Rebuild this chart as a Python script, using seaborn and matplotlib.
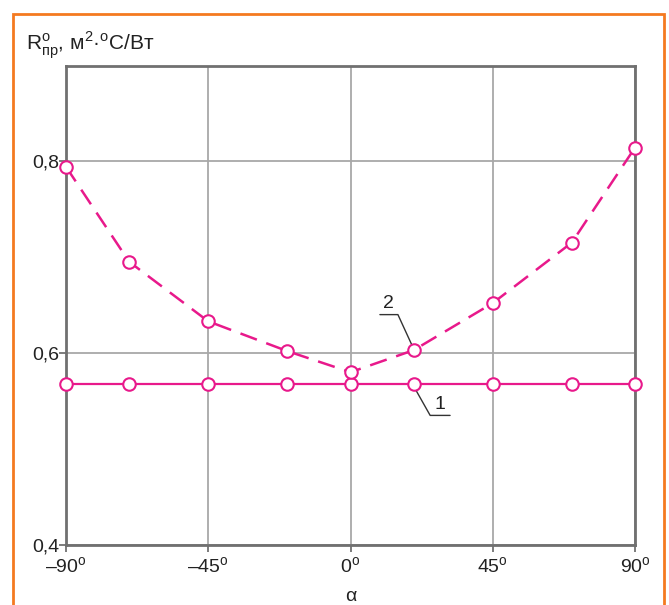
import matplotlib
matplotlib.use("Agg")
import matplotlib.pyplot as plt
import seaborn as sns
from matplotlib.patches import Rectangle

# angle, degrees
alpha = [-90, -70, -45, -20, 0, 20, 45, 70, 90]
# curve 1 and curve 2, R_pr (m2*C/W)
r_curve1 = [0.568, 0.568, 0.568, 0.568, 0.568, 0.568, 0.568, 0.568, 0.568]
r_curve2 = [0.794, 0.695, 0.633, 0.602, 0.580, 0.603, 0.652, 0.715, 0.814]

x_ticks = [-90, -45, 0, 45, 90]
x_tick_labels = ["–90$^{\\mathregular{o}}$", "–45$^{\\mathregular{o}}$", "0$^{\\mathregular{o}}$",
                 "45$^{\\mathregular{o}}$", "90$^{\\mathregular{o}}$"]
y_ticks = [0.4, 0.6, 0.8]
y_tick_labels = ["0,4", "0,6", "0,8"]

MAGENTA = "#e8198b"
TXT = "#222222"

sns.set_style("white")
plt.rcParams["font.family"] = ["Liberation Sans", "DejaVu Sans"]
plt.rcParams["mathtext.fontset"] = "custom"
plt.rcParams["mathtext.rm"] = "Liberation Sans"

fig = plt.figure(figsize=(6.69, 6.05), dpi=100)
ax = fig.add_axes([66 / 669, 60 / 605, 569 / 669, 479 / 605])

# orange frame around the figure
fig.patches.append(Rectangle((13 / 669, -0.05), 651 / 669, 1.05 - 14 / 605,
                             transform=fig.transFigure, fill=False,
                             edgecolor="#f47a20", linewidth=2))

sns.lineplot(x=alpha, y=r_curve1, ax=ax, color=MAGENTA, linewidth=1.6,
             marker="o", markersize=9, markerfacecolor="white",
             markeredgecolor=MAGENTA, markeredgewidth=1.5, clip_on=False, zorder=4)
sns.lineplot(x=alpha, y=r_curve2, ax=ax, color=MAGENTA, linewidth=1.8,
             linestyle=(0, (7, 4)),
             marker="o", markersize=9, markerfacecolor="white",
             markeredgecolor=MAGENTA, markeredgewidth=1.5, clip_on=False, zorder=4)

ax.set_xlim(-90, 90)
ax.set_ylim(0.4, 0.899)
ax.set_xticks(x_ticks)
ax.set_xticklabels(x_tick_labels, fontsize=14)
ax.set_yticks(y_ticks)
ax.set_yticklabels(y_tick_labels, fontsize=14)
ax.tick_params(axis="both", length=5, width=1.2, color="#666666", labelcolor=TXT)
ax.tick_params(axis="x", bottom=True, pad=3)
ax.tick_params(axis="y", left=True, pad=0)
ax.grid(True, color="#a8a8a8", linewidth=1.3)
ax.set_axisbelow(True)
for sp in ax.spines.values():
    sp.set_color("#707070")
    sp.set_linewidth(2)

ax.set_xlabel("α", fontsize=14, labelpad=8, color=TXT)

# y-axis title at top-left
fig.text(26 / 669, 1 - 45 / 605,
         "R$^{\\mathregular{o}}_{\\mathregular{пр}}$, м$^{\\mathregular{2}}$·$^{\\mathregular{o}}$С/Вт",
         fontsize=15, va="center", ha="left", color=TXT)

# curve labels with leader lines
ax.text(11.9, 0.643, "2", fontsize=14, ha="center", va="bottom", color=TXT)
ax.plot([9.3, 15.0, 19.6], [0.640, 0.640, 0.607], color="#333333", linewidth=1.0, zorder=3)
ax.text(28.3, 0.538, "1", fontsize=14, ha="center", va="bottom", color=TXT)
ax.plot([20.4, 25.2, 31.5], [0.563, 0.535, 0.535], color="#333333", linewidth=1.0, zorder=3)

fig.savefig("out.png", dpi=100)
